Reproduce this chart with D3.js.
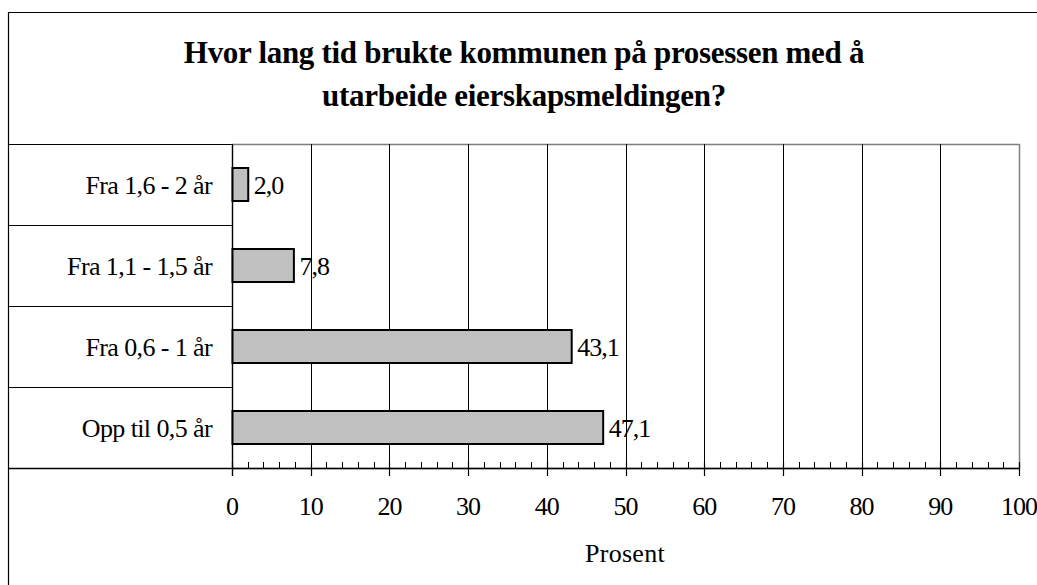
<!DOCTYPE html>
<html><head><meta charset="utf-8">
<script src="https://cdn.jsdelivr.net/npm/d3@7"></script>
<style>body{margin:0;background:#fff}svg{display:block}text{font-family:"Liberation Serif","Times New Roman",serif;fill:#000}</style>
</head><body>
<script>
const categories = ["Fra 1,6 - 2 år", "Fra 1,1 - 1,5 år", "Fra 0,6 - 1 år", "Opp til 0,5 år"];
const values = [2.0, 7.8, 43.1, 47.1];
const valueLabels = ["2,0", "7,8", "43,1", "47,1"];
const majorTicks = [0,10,20,30,40,50,60,70,80,90,100];
const minorTicks = d3.range(0, 101, 2);
const titleLines = ["Hvor lang tid brukte kommunen på prosessen med å", "utarbeide eierskapsmeldingen?"];
const axisTitle = "Prosent";

const W = 1037, H = 585;
const svg = d3.select("body").append("svg").attr("width", W).attr("height", H);
const L = 232, R = 1019, T = 144, B = 468, leftEdge = 8;

const x = d3.scaleLinear().domain([0, 100]).range([L, R]);
const y = d3.scaleBand().domain(categories).range([T, B]).paddingInner(0).paddingOuter(0);

// outer border (left & top)
svg.append("path").attr("d", `M${leftEdge+0.5},${H} V12.5 H${W}`).attr("fill","none").attr("stroke","#000").attr("stroke-width",1.2);

// title
svg.append("g").selectAll("text").data(titleLines).join("text")
  .attr("x", 524).attr("y", (d,i)=> 63 + i*43)
  .attr("text-anchor","middle").attr("font-size", 31).attr("font-weight","bold").attr("letter-spacing", -0.3).text(d=>d);

// category separators in left column
svg.append("g").selectAll("line").data(categories.concat(["__end"])).join("line")
  .attr("x1", leftEdge).attr("x2", L)
  .attr("y1", (d,i)=> Math.round(T + i*y.bandwidth())+0.5)
  .attr("y2", (d,i)=> Math.round(T + i*y.bandwidth())+0.5)
  .attr("stroke","#000").attr("stroke-width",1);

// plot area border (gray)
svg.append("rect").attr("x", L+0.5).attr("y", T+0.5).attr("width", R-L).attr("height", B-T)
  .attr("fill","none").attr("stroke","#808080").attr("stroke-width",1.5);

// gridlines
svg.append("g").selectAll("line").data(majorTicks.slice(1, -1)).join("line")
  .attr("x1", d=>Math.round(x(d))+0.5).attr("x2", d=>Math.round(x(d))+0.5)
  .attr("y1", T).attr("y2", B).attr("stroke","#000").attr("stroke-width",1);

// left axis line
svg.append("line").attr("x1", L+0.5).attr("x2", L+0.5).attr("y1", T).attr("y2", B+8).attr("stroke","#000").attr("stroke-width",1.2);

// bars
const bh = 33;
svg.append("g").selectAll("rect").data(values).join("rect")
  .attr("x", x(0)+0.5).attr("y", (d,i)=> y(categories[i]) + y.bandwidth()/2 - bh/2)
  .attr("width", d=> x(d)-x(0)).attr("height", bh)
  .attr("fill","#c0c0c0").attr("stroke","#000").attr("stroke-width",2);

// value labels
svg.append("g").selectAll("text").data(values).join("text")
  .attr("x", d=> x(d)+6).attr("y", (d,i)=> y(categories[i]) + y.bandwidth()/2 + 9)
  .attr("font-size", 26).attr("letter-spacing", -1).text((d,i)=>valueLabels[i]);

// category labels
svg.append("g").selectAll("text").data(categories).join("text")
  .attr("x", 212).attr("y", d=> y(d) + y.bandwidth()/2 + 9)
  .attr("text-anchor","end").attr("font-size", 26).attr("letter-spacing", -0.6).text(d=>d);

// x axis
const axisG = svg.append("g").attr("transform", `translate(0,${B})`);
axisG.append("line").attr("x1", leftEdge).attr("x2", R).attr("y1", 0.5).attr("y2", 0.5).attr("stroke","#000").attr("stroke-width",1.5);
axisG.selectAll("line.minor").data(minorTicks.filter(d=> d%10!==0)).join("line").attr("class","minor")
  .attr("x1", d=>Math.round(x(d))+0.5).attr("x2", d=>Math.round(x(d))+0.5).attr("y1", 0).attr("y2", -6)
  .attr("stroke","#000").attr("stroke-width",1);
axisG.selectAll("line.major").data(majorTicks).join("line").attr("class","major")
  .attr("x1", d=>Math.round(x(d))+0.5).attr("x2", d=>Math.round(x(d))+0.5).attr("y1", -6).attr("y2", 8)
  .attr("stroke","#000").attr("stroke-width",1.2);
axisG.selectAll("text").data(majorTicks).join("text")
  .attr("x", d=>x(d)).attr("y", 47).attr("text-anchor","middle").attr("font-size", 26).attr("letter-spacing", -1).text(d=>d);

svg.append("text").attr("x", 625).attr("y", 562).attr("text-anchor","middle").attr("font-size", 26).attr("letter-spacing", 0.3).text(axisTitle);
</script>
</body></html>
